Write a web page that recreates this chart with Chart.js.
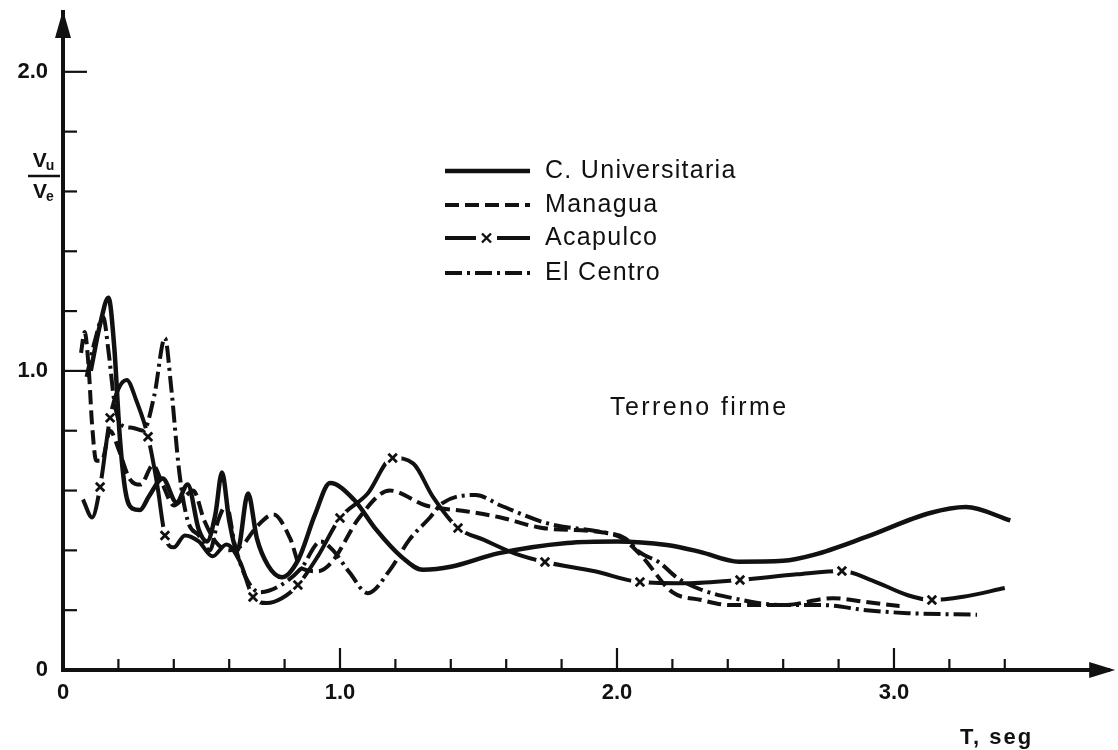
<!DOCTYPE html>
<html>
<head>
<meta charset="utf-8">
<script src="https://cdn.jsdelivr.net/npm/chart.js@4.4.1/dist/chart.umd.min.js"></script>
<style>
  html, body { margin: 0; padding: 0; background: #fff; }
  #wrap { width: 1118px; height: 750px; position: relative; }
</style>
</head>
<body>
<div id="wrap"><canvas id="c" width="1118" height="750"></canvas></div>
<script>
// Ratio Vu/Ve against period T (s), rigid soil records
const seriesNames = ['C. Universitaria', 'Managua', 'Acapulco', 'El Centro'];

const cuT = [0.10, 0.135, 0.164, 0.185, 0.205, 0.225, 0.25, 0.278, 0.31, 0.36, 0.41, 0.45, 0.49, 0.52, 0.55, 0.574, 0.60, 0.63, 0.668, 0.70, 0.74, 0.79, 0.85, 0.91, 0.964, 1.05, 1.13, 1.22, 1.30, 1.40, 1.57, 1.82, 2.00, 2.18, 2.30, 2.44, 2.60, 2.71, 2.90, 3.13, 3.26, 3.42];
const cuV = [1.00, 1.16, 1.245, 1.08, 0.78, 0.60, 0.54, 0.535, 0.58, 0.64, 0.56, 0.62, 0.47, 0.43, 0.52, 0.66, 0.50, 0.40, 0.59, 0.44, 0.35, 0.31, 0.37, 0.52, 0.625, 0.57, 0.47, 0.38, 0.335, 0.345, 0.39, 0.425, 0.43, 0.418, 0.395, 0.362, 0.365, 0.385, 0.445, 0.525, 0.545, 0.50];

const mgT = [0.065, 0.078, 0.092, 0.105, 0.12, 0.14, 0.17, 0.20, 0.24, 0.28, 0.325, 0.36, 0.40, 0.44, 0.47, 0.51, 0.55, 0.60, 0.65, 0.70, 0.76, 0.82, 0.86, 0.92, 0.97, 1.07, 1.18, 1.31, 1.46, 1.58, 1.73, 1.95, 2.02, 2.09, 2.20, 2.30, 2.41, 2.60, 2.78, 2.90, 3.02];
const mgV = [1.06, 1.13, 1.02, 0.82, 0.70, 0.70, 0.80, 0.74, 0.64, 0.62, 0.685, 0.62, 0.55, 0.58, 0.60, 0.50, 0.43, 0.40, 0.42, 0.48, 0.52, 0.44, 0.34, 0.33, 0.36, 0.51, 0.60, 0.55, 0.53, 0.51, 0.475, 0.46, 0.44, 0.38, 0.26, 0.235, 0.217, 0.217, 0.24, 0.227, 0.214];

const acT = [0.072, 0.105, 0.134, 0.17, 0.20, 0.23, 0.265, 0.307, 0.34, 0.368, 0.40, 0.44, 0.49, 0.54, 0.59, 0.64, 0.686, 0.736, 0.79, 0.848, 0.92, 1.00, 1.10, 1.19, 1.265, 1.335, 1.426, 1.52, 1.63, 1.74, 1.92, 2.083, 2.25, 2.444, 2.65, 2.812, 2.92, 3.05, 3.137, 3.25, 3.40];
const acV = [0.57, 0.51, 0.612, 0.843, 0.94, 0.97, 0.90, 0.78, 0.62, 0.45, 0.41, 0.45, 0.43, 0.38, 0.42, 0.36, 0.244, 0.224, 0.24, 0.284, 0.38, 0.508, 0.59, 0.709, 0.69, 0.58, 0.475, 0.435, 0.39, 0.361, 0.33, 0.294, 0.29, 0.301, 0.32, 0.331, 0.30, 0.25, 0.234, 0.245, 0.274];
// 1 where the Acapulco curve carries an "x" mark
const acMark = [0, 0, 1, 1, 0, 0, 0, 1, 0, 1, 0, 0, 0, 0, 0, 0, 1, 0, 0, 1, 0, 1, 0, 1, 0, 0, 1, 0, 0, 1, 0, 1, 0, 1, 0, 1, 0, 0, 1, 0, 0];

const ecT = [0.085, 0.115, 0.145, 0.165, 0.185, 0.21, 0.25, 0.29, 0.33, 0.368, 0.39, 0.42, 0.45, 0.49, 0.53, 0.56, 0.59, 0.62, 0.66, 0.71, 0.78, 0.86, 0.93, 0.975, 1.036, 1.10, 1.18, 1.25, 1.325, 1.37, 1.49, 1.58, 1.75, 1.95, 2.03, 2.08, 2.155, 2.215, 2.30, 2.42, 2.60, 2.74, 2.90, 3.05, 3.30];
const ecV = [0.98, 1.10, 1.18, 1.06, 0.90, 0.82, 0.81, 0.80, 0.92, 1.11, 0.95, 0.66, 0.50, 0.45, 0.40, 0.50, 0.55, 0.42, 0.31, 0.26, 0.28, 0.34, 0.43, 0.40, 0.324, 0.257, 0.334, 0.435, 0.51, 0.558, 0.585, 0.55, 0.49, 0.46, 0.44, 0.395, 0.358, 0.31, 0.27, 0.24, 0.217, 0.217, 0.20, 0.19, 0.185];

const xLabelValues = [0, 1, 2, 3];
const xLabelTexts = ['0', '1.0', '2.0', '3.0'];
const yLabelValues = [0, 1, 2];
const yLabelTexts = ['0', '1.0', '2.0'];

const INK = '#111';
const FONT = '"Liberation Sans", Arial, sans-serif';

const pts = (T, V) => T.map((t, i) => ({ x: t, y: V[i] }));
const markPts = acT.map((t, i) => ({ x: t, y: acV[i] })).filter((p, i) => acMark[i]);
const fmtTick = (vals, texts) => (v) => {
  const i = vals.findIndex(a => Math.abs(a - v) < 1e-6);
  return i >= 0 ? texts[i] : '';
};

const decor = {
  id: 'decor',
  afterDraw(chart) {
    const ctx = chart.ctx;
    const xs = chart.scales.x, ys = chart.scales.y;
    const x0 = xs.getPixelForValue(0), y0 = ys.getPixelForValue(0);
    ctx.save();
    ctx.strokeStyle = INK; ctx.fillStyle = INK; ctx.lineCap = 'butt';

    // inward tick marks
    ctx.lineWidth = 2.2;
    xs.ticks.forEach(t => {
      const v = t.value;
      if (v <= 1e-6 || v > 3.6 + 1e-6) return;
      const major = Math.abs(v - Math.round(v)) < 1e-6;
      const px = xs.getPixelForValue(v);
      ctx.beginPath(); ctx.moveTo(px, y0); ctx.lineTo(px, y0 - (major ? 22 : 11)); ctx.stroke();
    });
    ys.ticks.forEach(t => {
      const v = t.value;
      if (v <= 1e-6 || v > 2.0 + 1e-6) return;
      const major = Math.abs(v - Math.round(v)) < 1e-6;
      const py = ys.getPixelForValue(v);
      ctx.beginPath(); ctx.moveTo(x0, py); ctx.lineTo(x0 + (major ? 24 : 14), py); ctx.stroke();
    });

    // arrow heads at the ends of both axes
    const xEnd = xs.getPixelForValue(xs.max), yEnd = ys.getPixelForValue(ys.max);
    ctx.beginPath(); ctx.moveTo(xEnd + 6, y0); ctx.lineTo(xEnd - 20, y0 - 8); ctx.lineTo(xEnd - 20, y0 + 8); ctx.closePath(); ctx.fill();
    ctx.beginPath(); ctx.moveTo(x0, yEnd - 2); ctx.lineTo(x0 - 8, yEnd + 26); ctx.lineTo(x0 + 8, yEnd + 26); ctx.closePath(); ctx.fill();

    // y-axis title as a fraction Vu / Ve
    const fx = 44;
    ctx.textBaseline = 'alphabetic';
    const drawSub = (main, sub, cx, base) => {
      ctx.font = 'bold 21px ' + FONT;
      const w1 = ctx.measureText(main).width;
      ctx.font = 'bold 14px ' + FONT;
      const w2 = ctx.measureText(sub).width;
      const left = cx - (w1 + w2) / 2;
      ctx.font = 'bold 21px ' + FONT; ctx.textAlign = 'left';
      ctx.fillText(main, left, base);
      ctx.font = 'bold 14px ' + FONT;
      ctx.fillText(sub, left + w1 - 1, base + 3);
    };
    drawSub('V', 'u', fx, 167);
    ctx.lineWidth = 2.5;
    ctx.beginPath(); ctx.moveTo(fx - 16, 176); ctx.lineTo(fx + 16, 176); ctx.stroke();
    drawSub('V', 'e', fx, 198);

    // x-axis title
    ctx.font = 'bold 22px ' + FONT; ctx.textAlign = 'left';
    ctx.letterSpacing = '2px';
    ctx.fillText('T, seg', 960, 744);
    ctx.letterSpacing = '0px';

    // soil note
    ctx.font = '25px ' + FONT;
    ctx.letterSpacing = '2.4px';
    ctx.textBaseline = 'middle';
    ctx.fillText('Terreno firme', 610, 408);

    // legend built from the series styles
    const rows = [171, 205, 238, 273];
    const lx0 = 445, lx1 = 530;
    ctx.font = '25px ' + FONT;
    ctx.letterSpacing = '1.3px';
    chart.data.datasets.slice(0, 4).forEach((ds, i) => {
      const y = rows[i];
      ctx.lineWidth = ds.borderWidth;
      ctx.setLineDash(ds.borderDash || []);
      if (ds.label === 'Acapulco') {
        ctx.beginPath(); ctx.moveTo(lx0, y); ctx.lineTo(lx0 + 31, y);
        ctx.moveTo(lx0 + 52, y); ctx.lineTo(lx1, y); ctx.stroke();
        ctx.lineWidth = 2.4;
        const cx = lx0 + 41.5, s = 4.5;
        ctx.beginPath(); ctx.moveTo(cx - s, y - s); ctx.lineTo(cx + s, y + s);
        ctx.moveTo(cx + s, y - s); ctx.lineTo(cx - s, y + s); ctx.stroke();
      } else {
        ctx.beginPath(); ctx.moveTo(lx0, y); ctx.lineTo(lx1, y); ctx.stroke();
      }
      ctx.setLineDash([]);
      ctx.fillText(ds.label, 545, y);
    });
    ctx.letterSpacing = '0px';
    ctx.restore();
  }
};

new Chart(document.getElementById('c'), {
  type: 'line',
  data: {
    datasets: [
      { label: seriesNames[0], data: pts(cuT, cuV), order: 1, borderColor: INK, borderWidth: 4.5,
        pointRadius: 0, cubicInterpolationMode: 'monotone', fill: false },
      { label: seriesNames[1], data: pts(mgT, mgV), order: 2, borderColor: INK, borderWidth: 4,
        borderDash: [14, 6], pointRadius: 0, cubicInterpolationMode: 'monotone', fill: false },
      { label: seriesNames[2], data: pts(acT, acV), order: 4, borderColor: INK, borderWidth: 4,
        pointRadius: c => acMark[c.dataIndex] ? 9 : 0, pointStyle: 'circle',
        pointBackgroundColor: '#fff', pointBorderWidth: 0, pointBorderColor: '#fff',
        cubicInterpolationMode: 'monotone', fill: false },
      { label: seriesNames[3], data: pts(ecT, ecV), order: 3, borderColor: INK, borderWidth: 4,
        borderDash: [17, 5, 3, 5], pointRadius: 0, cubicInterpolationMode: 'monotone', fill: false },
      { label: 'Acapulco x', data: markPts, order: 0, showLine: false, pointStyle: 'crossRot',
        pointRadius: 6, pointBorderWidth: 2.8, pointBorderColor: INK, borderColor: INK }
    ]
  },
  options: {
    responsive: false,
    animation: false,
    events: [],
    layout: { padding: { top: 12, right: 0, left: 0, bottom: 0 } },
    plugins: { legend: { display: false }, tooltip: { enabled: false } },
    scales: {
      x: {
        type: 'linear', min: 0, max: 3.777,
        afterFit: s => { s.height = 80; s.paddingLeft = 0; s.paddingRight = 0; },
        border: { display: true, width: 4, color: INK },
        grid: { display: false, drawTicks: false },
        ticks: { stepSize: 0.2, autoSkip: false, maxRotation: 0, padding: 10, color: INK,
          font: { family: FONT, size: 22, weight: 'bold' },
          callback: fmtTick(xLabelValues, xLabelTexts) }
      },
      y: {
        type: 'linear', min: 0, max: 2.2,
        afterFit: s => { s.width = 63; s.paddingTop = 0; s.paddingBottom = 0; },
        border: { display: true, width: 4, color: INK },
        grid: { display: false, drawTicks: false },
        ticks: { stepSize: 0.2, autoSkip: false, padding: 15, color: INK,
          font: { family: FONT, size: 22, weight: 'bold' },
          callback: fmtTick(yLabelValues, yLabelTexts) }
      }
    }
  },
  plugins: [decor]
});
</script>
</body>
</html>
